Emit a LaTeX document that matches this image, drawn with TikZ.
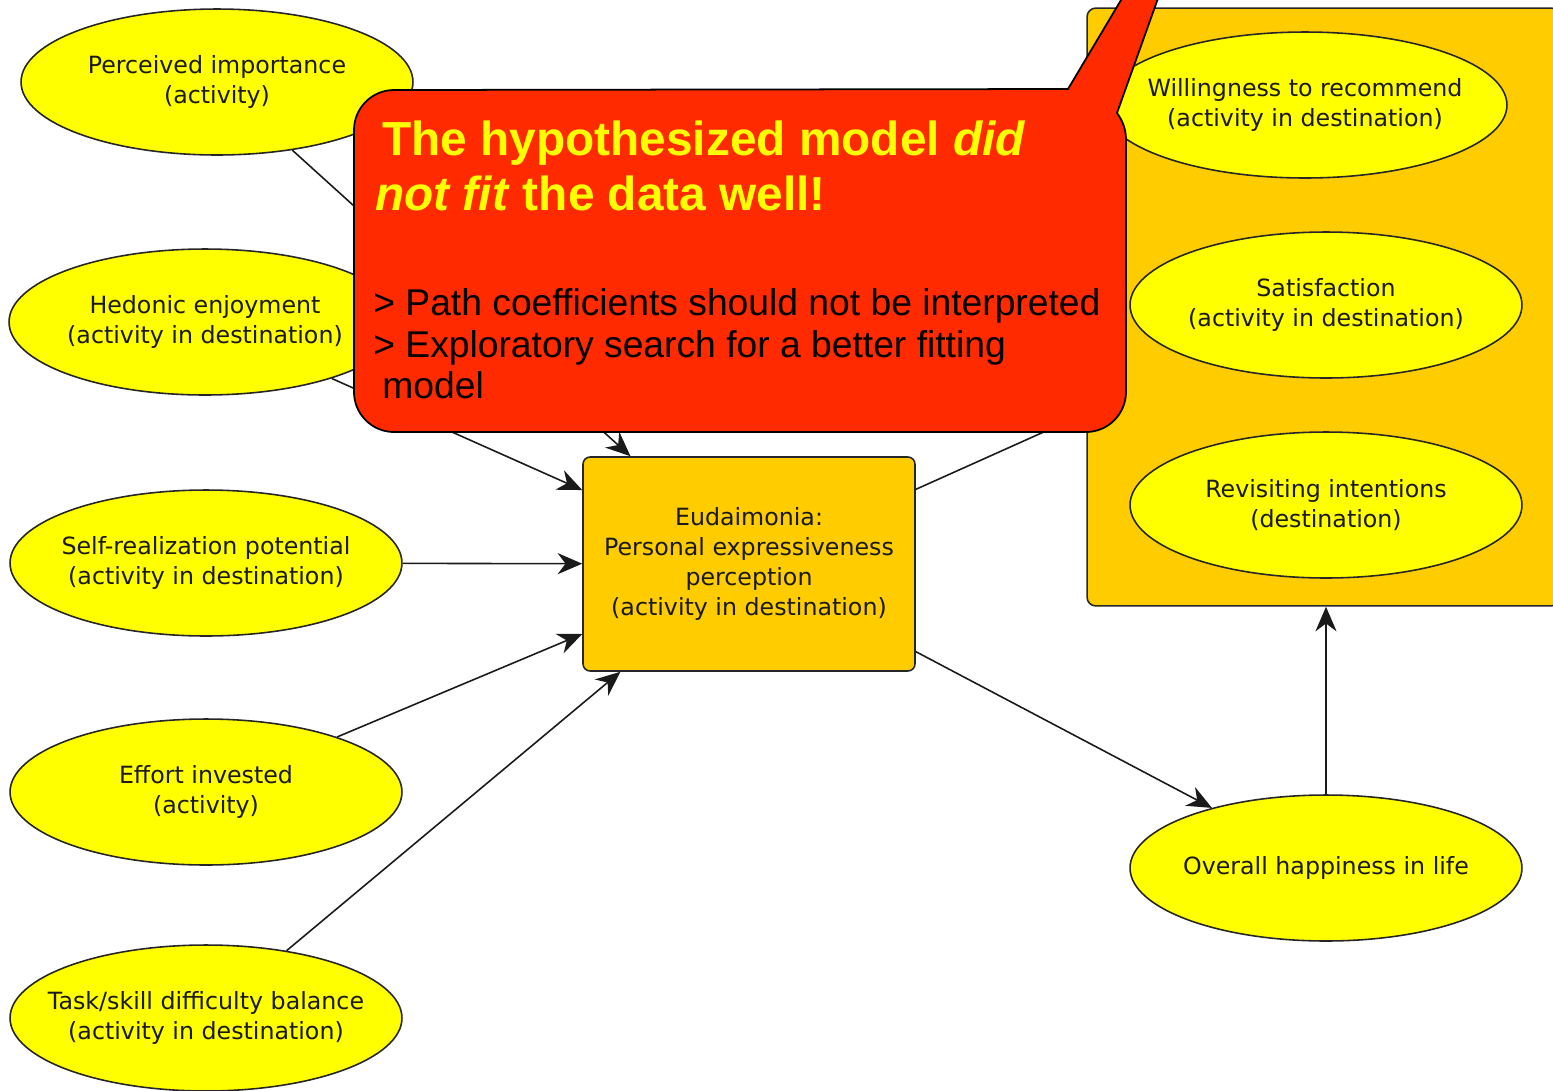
\documentclass[tikz,border=0pt]{standalone}
\usepackage{fontspec}
\setmainfont{DejaVu Sans}
\newfontfamily\calloutfont{Liberation Sans}
\usetikzlibrary{shapes.geometric,arrows.meta}
\definecolor{gold}{HTML}{FFCC00}
\definecolor{lemon}{HTML}{FFFF00}
\definecolor{alert}{HTML}{FF2A00}
\definecolor{ink}{HTML}{1A1A1A}
\definecolor{rim}{HTML}{262626}
\begin{document}
\begin{tikzpicture}[x=0.02cm,y=-0.02cm,
  label text/.style={font=\fontsize{13.5}{17}\selectfont, text=ink, align=center, inner sep=0pt},
  % ellipse of fixed size; its caption is a centred label so the text never widens it
  construct/.style={ellipse, draw=rim, line width=0.9pt, fill=lemon, inner sep=0pt,
    minimum width=7.84cm, minimum height=2.92cm, label={[label text]center:#1}},
  core/.style={rectangle, draw=rim, line width=0.9pt, fill=gold, rounded corners=4pt,
    minimum width=6.64cm, minimum height=4.28cm, inner sep=0pt, label text},
  group/.style={rectangle, draw=rim, line width=0.9pt, fill=gold, rounded corners=5pt,
    minimum width=9.46cm, minimum height=11.96cm, inner sep=0pt},
  path/.style={draw=ink, line width=0.9pt, -{Stealth[length=14pt,width=12pt,inset=4.5pt]}},
  callout/.style={draw=black, line width=1pt, fill=alert},
  headline/.style={anchor=base west, inner sep=0pt, text=lemon,
    font=\calloutfont\bfseries\fontsize{27.2}{31}\selectfont},
  bodyline/.style={anchor=base west, inner sep=0pt, text=black,
    font=\calloutfont\fontsize{21.2}{25}\selectfont}]

\clip (0,0) rectangle (1553,1090);

% outcome group on the right
\node[group] (grp) at (1323.5,307) {};

% exogenous constructs
\node[construct={Perceived importance\\(activity)}] (imp) at (217,82) {};
\node[construct={Hedonic enjoyment\\(activity in destination)}] (hed) at (205,322) {};
\node[construct={Self-realization potential\\(activity in destination)}] (self) at (206,563) {};
\node[construct={Effort invested\\(activity)}] (eff) at (206,792) {};
\node[construct={Task/skill difficulty balance\\(activity in destination)}] (task) at (206,1018) {};

% outcomes
\node[construct={Willingness to recommend\\(activity in destination)}, minimum width=8.08cm] (will) at (1305,105) {};
\node[construct={Satisfaction\\(activity in destination)}] (sat) at (1326,305) {};
\node[construct={Revisiting intentions\\(destination)}] (rev) at (1326,505) {};
\node[construct={Overall happiness in life}] (happy) at (1326,868) {};

% mediator
\node[core] (eud) at (749,564) {Eudaimonia:\\Personal expressiveness\\perception\\(activity in destination)};

% structural paths
\draw[path] (imp) -- (eud);
\draw[path] (hed) -- (eud);
\draw[path] (self) -- (eud);
\draw[path] (eff) -- (eud);
\draw[path] (task) -- (eud);
\draw[path] (eud) -- (grp);
\draw[path] (eud) -- (happy);
\draw[path] (happy) -- (happy |- grp.south);

% speech bubble
\draw[callout] (354,130) .. controls (354,108) and (372,90) .. (394,90)
  -- (1068,89) -- (1127,-10) -- (1161,-10) -- (1117,113)
  .. controls (1122,120) and (1126,128) .. (1126,140)
  -- (1126,392) .. controls (1126,414) and (1108,432) .. (1086,432)
  -- (394,432) .. controls (372,432) and (354,414) .. (354,392) -- cycle;

\node[headline] (h1) at (382,155) {The hypothesized model \textit{did}};
\node[headline] (h2) at (375,210) {\textit{not fit} the data well!};
\node[bodyline] (b1) at (373,315) {> Path coefficients should not be interpreted};
\node[bodyline] (b2) at (373,357) {> Exploratory search for a better fitting};
\node[bodyline] (b3) at (382,398) {model};
\end{tikzpicture}
\end{document}
